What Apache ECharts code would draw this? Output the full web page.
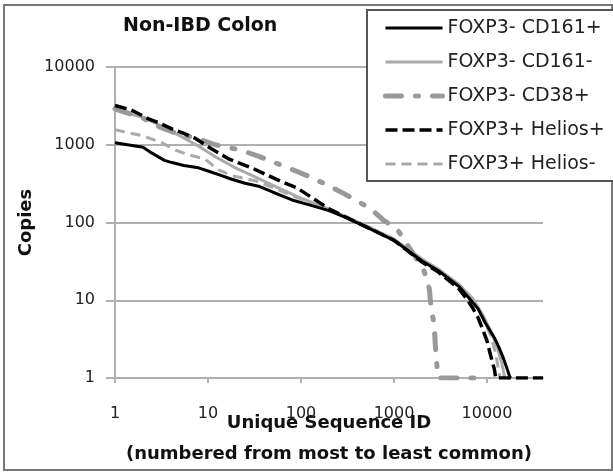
<!DOCTYPE html>
<html>
<head>
<meta charset="utf-8">
<script src="https://cdn.jsdelivr.net/npm/echarts@6/dist/echarts.min.js"></script>
<style>
  html, body { margin: 0; padding: 0; background: #fff; }
  #chart { width: 613px; height: 472px; }
</style>
</head>
<body>
<div id="chart"></div>
<script>
// 系列名称
const seriesNames = [
  "FOXP3- CD161+",
  "FOXP3- CD161-",
  "FOXP3- CD38+",
  "FOXP3+ Helios+",
  "FOXP3+ Helios-",
];

// 每条曲线 [序号, 拷贝数]，按图上读数估计
const cd161pos = [
  [1, 1060], [2, 930], [2.5, 780], [3.4, 630], [4.1, 590], [5.5, 540], [7.9, 505],
  [10, 460], [14, 400], [18, 360], [25, 320], [36, 290], [50, 245], [80, 195],
  [120, 170], [200, 142], [300, 116], [500, 88], [1000, 59], [2000, 32],
  [3000, 24], [5000, 15], [6700, 10], [8000, 7.8], [9600, 5.1], [12000, 3.3],
  [13400, 2.5], [15000, 1.8], [16500, 1.3], [17500, 1.05], [18000, 1],
];
const cd161neg = [
  [1, 2800], [2, 2250], [3, 1800], [5, 1300], [8, 950], [12, 700], [20, 500],
  [30, 400], [50, 300], [100, 205], [200, 148], [300, 120], [500, 91],
  [1000, 61], [2000, 34], [3000, 25], [5000, 16], [7000, 10.5], [9000, 6.5],
  [11000, 4], [13000, 2.4], [14500, 1.5], [15500, 1],
];
const cd38pos = [
  [1, 2900], [2, 2200], [3, 1700], [5, 1350], [7, 1250], [12, 1000], [22, 860],
  [34, 720], [54, 580], [88, 460], [130, 380], [190, 305], [290, 235], [400, 190],
  [570, 148], [780, 106], [1070, 84], [1340, 55], [1700, 36], [2100, 24],
  [2400, 14], [2500, 8], [2700, 5], [2800, 2.3], [2950, 1.1], [3000, 1], [8000, 1],
];
const heliosPos = [
  [1, 3200], [1.5, 2800], [2.3, 2150], [3, 1900], [4.1, 1600], [5.5, 1400],
  [7.2, 1220], [11, 880], [16.6, 660], [21, 590], [30, 500], [40, 425], [60, 340],
  [90, 280], [130, 210], [200, 150], [300, 118], [500, 88], [1000, 59],
  [2000, 31], [3000, 23], [5000, 14], [6000, 10.5], [7000, 8], [8000, 6],
  [8800, 4.5], [10000, 3], [11000, 1.9], [12000, 1.3], [12400, 1], [40000, 1],
];
const heliosNeg = [
  [1, 1560], [2, 1300], [3.2, 1060], [4.5, 850], [6.2, 740], [9.2, 660],
  [13, 475], [18, 400], [32, 345], [50, 280], [100, 200], [200, 145], [500, 90],
  [1000, 60], [2000, 33], [3000, 25], [5000, 15.5], [7000, 10], [9000, 6],
  [11000, 3.5], [12500, 2], [13400, 1.2], [13800, 1],
];

// 坐标轴刻度
const xTicks = [1, 10, 100, 1000, 10000];
const yTicks = [1, 10, 100, 1000, 10000];

const gridColor = "#b0b0b0";
const font = "DejaVu Sans";

// 线型：颜色、宽度、虚线
const styles = {
  "FOXP3- CD161+": { color: "#000000", width: 3, type: "solid" },
  "FOXP3- CD161-": { color: "#aaaaaa", width: 3, type: "solid" },
  "FOXP3- CD38+": { color: "#999999", width: 5, type: [16, 14, 3, 14], cap: "round" },
  "FOXP3+ Helios+": { color: "#000000", width: 3.5, type: [12, 5] },
  "FOXP3+ Helios-": { color: "#aaaaaa", width: 3, type: [10, 6] },
};

const chart = echarts.init(document.getElementById("chart"));

function makeLine(name, data) {
  const s = styles[name];
  return {
    name: name,
    type: "line",
    data: data,
    symbol: "none",
    smooth: false,
    animation: false,
    lineStyle: { color: s.color, width: s.width, type: s.type, cap: s.cap || "butt" },
    itemStyle: { color: s.color },
  };
}

const option = {
  animation: false,
  title: {
    text: "Non-IBD Colon",
    left: 123,
    top: 17,
    padding: 0,
    textStyle: { fontFamily: font, fontSize: 19, fontWeight: "bold", color: "#111" },
  },
  legend: {
    orient: "vertical",
    left: 367,
    top: 10,
    padding: [8, 30, 7, 16],
    itemGap: 14,
    itemWidth: 57,
    itemHeight: 20,
    backgroundColor: "#fff",
    borderColor: "#555",
    borderWidth: 2,
    itemStyle: { color: "transparent", borderColor: "transparent", borderWidth: 0 },
    data: seriesNames.map((n) => ({
      name: n,
      lineStyle: {
        color: styles[n].color,
        width: styles[n].width,
        type: styles[n].type,
        cap: styles[n].cap || "butt",
      },
    })),
    textStyle: { fontFamily: font, fontSize: 19, color: "#222", lineHeight: 20 },
  },
  grid: { left: 115, top: 67, right: 70, bottom: 94, outerBoundsMode: "none", containLabel: false },
  xAxis: {
    type: "log",
    logBase: 10,
    min: 1,
    max: 40000,
    name: "Unique Sequence ID\n(numbered from most to least common)",
    nameLocation: "middle",
    nameGap: 30,
    nameMoveOverlap: false,
    nameTextStyle: { fontFamily: font, fontSize: 18, fontWeight: "bold", color: "#111", lineHeight: 31 },
    axisLine: { lineStyle: { color: gridColor, width: 2 } },
    axisTick: { show: true, length: 5, lineStyle: { color: gridColor, width: 2 }, customValues: xTicks },
    axisLabel: {
      margin: 28,
      fontFamily: font,
      fontSize: 16,
      color: "#222",
      customValues: xTicks,
      formatter: (v) => String(Math.round(v)),
    },
    splitLine: { show: false },
  },
  yAxis: {
    type: "log",
    logBase: 10,
    min: 1,
    max: 10000,
    name: "Copies",
    nameLocation: "middle",
    nameGap: 80,
    nameMoveOverlap: false,
    nameRotate: 90,
    nameTextStyle: { fontFamily: font, fontSize: 18, fontWeight: "bold", color: "#111" },
    axisLine: { show: true, lineStyle: { color: gridColor, width: 2 } },
    axisTick: { show: true, length: 9, lineStyle: { color: gridColor, width: 2 }, customValues: yTicks },
    axisLabel: {
      margin: 20,
      fontFamily: font,
      fontSize: 16,
      color: "#222",
      customValues: yTicks,
      formatter: (v) => String(Math.round(v)),
    },
    splitLine: { show: true, lineStyle: { color: gridColor, width: 2 } },
  },
  graphic: [
    {
      type: "rect",
      shape: { x: 4, y: 5, width: 608, height: 465 },
      style: { fill: "none", stroke: "#777", lineWidth: 2 },
      silent: true,
      z: -1,
    },
  ],
  series: [
    makeLine(seriesNames[1], cd161neg),
    makeLine(seriesNames[4], heliosNeg),
    makeLine(seriesNames[2], cd38pos),
    makeLine(seriesNames[0], cd161pos),
    makeLine(seriesNames[3], heliosPos),
  ],
};

chart.setOption(option);
</script>
</body>
</html>
